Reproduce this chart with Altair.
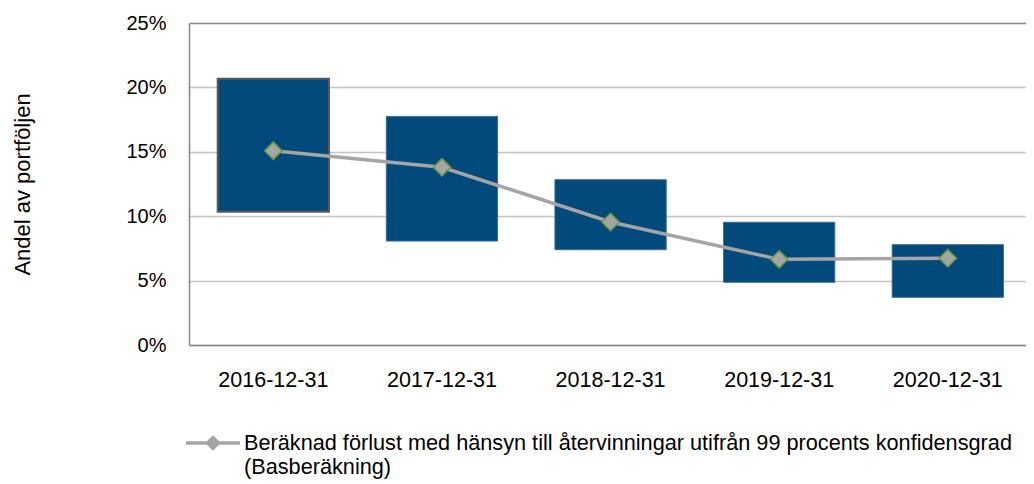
import altair as alt
import pandas as pd

categories = ["2016-12-31", "2017-12-31", "2018-12-31", "2019-12-31", "2020-12-31"]
low = [10.35, 8.07, 7.40, 4.87, 3.70]
high = [20.67, 17.75, 12.83, 9.53, 7.79]
base = [15.08, 13.80, 9.55, 6.65, 6.73]
y_ticks = [0, 5, 10, 15, 20, 25]
series_name = "Beräknad förlust med hänsyn till återvinningar utifrån 99 procents konfidensgrad|(Basberäkning)"

df = pd.DataFrame({"cat": categories, "low": low, "high": high, "base": base,
                   "series": [series_name] * len(categories)})

FONT = "Liberation Sans"

x_scale = alt.Scale(paddingInner=0.34, paddingOuter=0.152, align=0.56)
y_scale = alt.Scale(domain=[0, 25], nice=False, zero=True)

x = alt.X("cat:N", sort=categories, scale=x_scale,
          axis=alt.Axis(title=None, labelAngle=0, ticks=False, domainColor="#868686",
                        domainWidth=1.5, labelPadding=24, labelFontSize=21.5,
                        labelColor="#000000", labelFont=FONT, labelBaseline="top"))

y_axis = alt.Axis(values=y_ticks, title="Andel av portföljen", labelExpr="datum.value + '%'",
                  ticks=False, domainColor="#868686", domainWidth=1.5,
                  gridColor={"condition": {"test": "datum.value >= 25", "value": "#868686"},
                             "value": "#c4c4c4"},
                  gridWidth=1.5, labelPadding=23, labelFontSize=20, labelColor="#000000",
                  labelFont=FONT, titleFont=FONT, titleFontSize=22, titleFontWeight="normal",
                  titleColor="#000000", titleX=-167, titleY=161, titleBaseline="middle",
                  titleAlign="center", titleAngle=270)

bars = alt.Chart(df).mark_bar(fill="#034a7c").encode(
    x=x,
    y=alt.Y("low:Q", scale=y_scale, axis=y_axis),
    y2="high:Q",
    stroke=alt.condition(alt.datum.cat == categories[0], alt.value("#595959"), alt.value("#3b6d9c")),
    strokeWidth=alt.condition(alt.datum.cat == categories[0], alt.value(2), alt.value(1)),
)

line = alt.Chart(df).mark_line(strokeWidth=3.5).encode(
    x=alt.X("cat:N", sort=categories, scale=x_scale),
    y=alt.Y("base:Q", scale=y_scale),
    color=alt.Color("series:N", scale=alt.Scale(range=["#a5a5a5"]),
                    legend=alt.Legend(
                        title=None, orient="none", legendX=-5, legendY=391,
                        symbolType="M-1,0H1M0,-0.2L0.2,0L0,0.2L-0.2,0Z",
                        symbolSize=2916, symbolStrokeWidth=3.5, symbolFillColor="#a5a5a5",
                        labelExpr="split(datum.label, '|')", labelLimit=2000,
                        labelFontSize=21.7, labelFont=FONT, labelColor="#000000",
                        labelOffset=2, padding=0, labelBaseline="middle")),
)

points = alt.Chart(df).mark_point(shape="diamond", filled=True, fill="#a5a5a5",
                                  stroke="#6b9a3e", strokeWidth=1.5, size=300, opacity=1).encode(
    x=alt.X("cat:N", sort=categories, scale=x_scale),
    y=alt.Y("base:Q", scale=y_scale),
)

chart = alt.layer(bars, line, points).properties(
    width=837, height=322,
    autosize=alt.AutoSizeParams(type="none"),
    padding={"left": 181, "top": 15, "right": 0, "bottom": 140},
    background="white",
).configure_view(stroke=None).configure(font=FONT)

chart.save("out.html", embed_options={"renderer": "svg", "actions": False})
